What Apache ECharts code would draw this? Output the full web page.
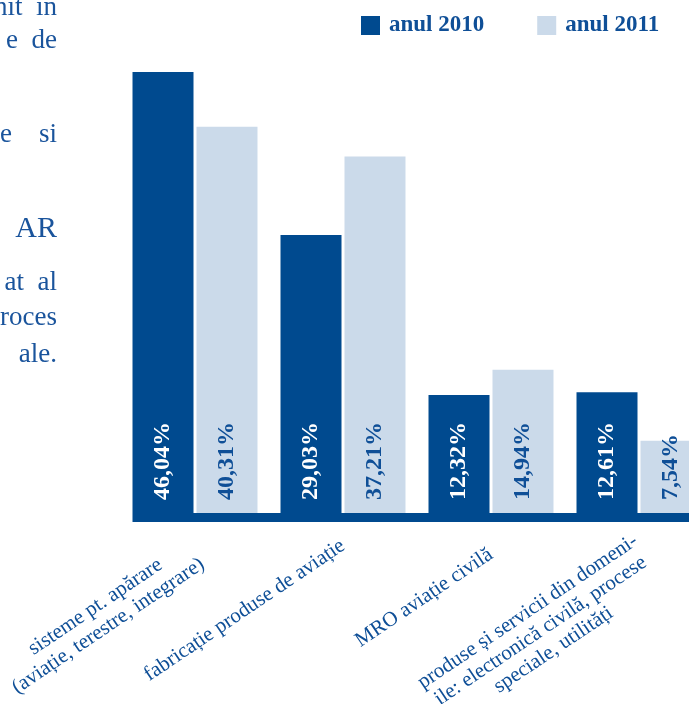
<!DOCTYPE html>
<html>
<head>
<meta charset="utf-8">
<script src="https://cdn.jsdelivr.net/npm/echarts@6/dist/echarts.min.js"></script>
<style>
  html, body { margin: 0; padding: 0; background: #fff; }
  #chart { width: 689px; height: 704px; }
</style>
</head>
<body>
<div id="chart"></div>
<script>
// date
const categories = [
  'sisteme pt. apărare\n(aviație, terestre, integrare)',
  'fabricație produse de aviație',
  'MRO aviație civilă',
  'produse și servicii din domeni-\nile: electronică civilă, procese\nspeciale, utilități'
];
const seriesNames = ['anul 2010', 'anul 2011'];
const values2010 = [46.04, 29.03, 12.32, 12.61];
const values2011 = [40.31, 37.21, 14.94, 7.54];
// fragmente din textul paginii, taiate la marginea din stanga
const sideText = ['nit  in', 'e  de', 'e    si', 'AR', 'at  al', 'roces', 'ale.'];

const DARK = '#004a8f';
const LIGHT = '#cbdaea';
const TEXT = '#0f4f97';
const SERIF = '"Liberation Serif", "DejaVu Serif", serif';

// ajustari de pozitie pentru etichetele categoriilor
const catPads = [[16, 4, 0, 0], [0, 0, 0, 0], [14, 5, 0, 0], [34, 0, 0, 0]];
const sideY = [21, 54, 148, 244, 296, 331, 368];
const sideSize = [27, 27, 27, 30, 27, 27, 27];

const chart = echarts.init(document.getElementById('chart'), null, { renderer: 'canvas' });

function barLabel(color) {
  return {
    show: true,
    position: 'insideBottom',
    distance: 13,
    rotate: 90,
    align: 'left',
    verticalAlign: 'middle',
    color: color,
    fontFamily: SERIF,
    fontWeight: 'bold',
    fontSize: 24,
    formatter: p => p.value.toFixed(2).replace('.', ',') + '%'
  };
}

const option = {
  animation: false,
  backgroundColor: '#fff',
  legend: {
    data: seriesNames,
    left: 356,
    top: 9,
    icon: 'rect',
    itemWidth: 19,
    itemHeight: 19,
    itemGap: 53,
    textStyle: {
      color: TEXT,
      fontFamily: SERIF,
      fontWeight: 'bold',
      fontSize: 23,
      padding: [0, 0, 0, 4]
    }
  },
  grid: {
    left: 121,
    width: 592,
    top: 34,
    bottom: 191,
    containLabel: false,
    outerBoundsMode: 'none'
  },
  xAxis: {
    type: 'category',
    data: categories.map((c, i) => ({ value: c, textStyle: { padding: catPads[i] } })),
    axisLine: { show: false },
    axisTick: { show: false },
    axisLabel: {
      interval: 0,
      rotate: 34,
      margin: 31,
      formatter: v => v.split('\n').map(s => '{c|' + s + '}').join('\n'),
      rich: {
        c: {
          align: 'center',
          color: TEXT,
          fontFamily: SERIF,
          fontSize: 21,
          lineHeight: 23
        }
      }
    }
  },
  yAxis: {
    type: 'value',
    min: 0,
    max: 50,
    show: false,
    splitLine: { show: false }
  },
  series: [
    {
      name: seriesNames[0],
      type: 'bar',
      data: values2010,
      barWidth: 61,
      barGap: '4.9%',
      itemStyle: { color: DARK },
      label: barLabel('#ffffff')
    },
    {
      name: seriesNames[1],
      type: 'bar',
      data: values2011,
      barWidth: 61,
      itemStyle: { color: LIGHT },
      label: barLabel(TEXT)
    }
  ]
};

chart.setOption(option);

// banda de baza: incepe la marginea primei bare si iese din imagine la dreapta
const p0 = chart.convertToPixel({ xAxisIndex: 0, yAxisIndex: 0 }, [0, 0]);
const graphics = [{
  type: 'rect',
  shape: { x: p0[0] - 62.5, y: p0[1], width: 700, height: 9 },
  style: { fill: DARK },
  z: 10
}];
sideText.forEach((t, i) => {
  graphics.push({
    type: 'text',
    x: 57,
    y: sideY[i],
    style: {
      text: t,
      fill: '#1a549c',
      font: sideSize[i] + 'px ' + SERIF,
      textAlign: 'right',
      textVerticalAlign: 'bottom'
    }
  });
});
chart.setOption({ graphic: graphics });
</script>
</body>
</html>
